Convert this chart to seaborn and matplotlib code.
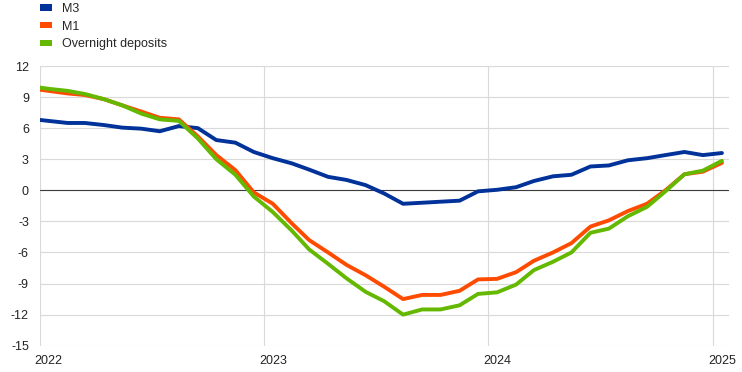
import matplotlib
matplotlib.use("Agg")
import matplotlib.pyplot as plt
import matplotlib.dates as mdates
import seaborn as sns
import pandas as pd
from matplotlib.patches import Patch

# Monthly data (mid-month), Dec 2021 .. Jan 2025
months = pd.date_range("2021-12-01", "2025-01-01", freq="MS") + pd.Timedelta(days=14)

m3 = [6.9,
      6.7, 6.5, 6.5, 6.3, 6.05, 5.95, 5.7, 6.2, 6.0, 4.85, 4.6, 3.7,
      3.1, 2.6, 2.0, 1.3, 1.0, 0.5, -0.3, -1.3, -1.2, -1.1, -1.0, -0.1,
      0.05, 0.3, 0.9, 1.35, 1.5, 2.3, 2.4, 2.9, 3.1, 3.4, 3.7, 3.4,
      3.6]
m1 = [9.85,
      9.6, 9.35, 9.2, 8.8, 8.2, 7.6, 7.0, 6.85, 5.2, 3.4, 1.95, -0.2,
      -1.3, -3.2, -4.8, -6.0, -7.2, -8.2, -9.3, -10.5, -10.1, -10.1, -9.7, -8.6,
      -8.55, -7.9, -6.8, -6.0, -5.1, -3.5, -2.9, -2.0, -1.3, 0.0, 1.55, 1.8,
      2.65]
od = [10.05,
      9.8, 9.6, 9.3, 8.8, 8.2, 7.4, 6.85, 6.7, 5.0, 3.0, 1.5, -0.6,
      -2.1, -3.9, -5.7, -7.1, -8.5, -9.8, -10.7, -12.0, -11.5, -11.5, -11.1, -10.0,
      -9.85, -9.1, -7.7, -6.9, -6.0, -4.1, -3.7, -2.5, -1.6, -0.1, 1.55, 1.9,
      2.85]

series_names = ["M3", "M1", "Overnight deposits"]
colors = ["#003299", "#FF4B00", "#65B800"]
year_labels = ["2022", "2023", "2024", "2025"]
yticks = [-15, -12, -9, -6, -3, 0, 3, 6, 9, 12]

df = pd.concat([
    pd.DataFrame({"date": months, "value": v, "series": n})
    for n, v in zip(series_names, [m3, m1, od])
])

sns.set_theme(style="white")
plt.rcParams["font.family"] = ["Liberation Sans", "DejaVu Sans"]

fig = plt.figure(figsize=(7.42, 3.72), dpi=100)
ax = fig.add_axes([40 / 742, 1 - 345.7 / 372, (729.3 - 40) / 742, (345.7 - 66) / 372])

sns.lineplot(data=df, x="date", y="value", hue="series", hue_order=series_names,
             palette=colors, linewidth=2.8, ax=ax, legend=False, sort=False)

ax.set_ylim(-15, 12)
ax.set_xlim(pd.Timestamp("2022-01-01"), pd.Timestamp("2025-01-27"))
ax.set_yticks(yticks)
ax.set_yticklabels([str(t) for t in yticks])

# gridlines at Jan 1, labels centered mid-January
ax.set_xticks([pd.Timestamp(f"{y}-01-01") for y in year_labels])
ax.set_xticklabels([""] * len(year_labels))
ax.set_xticks([pd.Timestamp(f"{y}-01-15") for y in year_labels], minor=True)
ax.set_xticklabels(year_labels, minor=True)

ax.grid(True, which="major", color="#d9d9d9", linewidth=0.8)
ax.set_axisbelow(True)
ax.axhline(0, color="#3c3c3c", linewidth=0.8, zorder=1.5)
for s in ax.spines.values():
    s.set_visible(False)
ax.tick_params(axis="both", which="both", length=0, labelsize=9, colors="#222222")
ax.tick_params(axis="y", pad=8)
ax.tick_params(axis="x", which="minor", pad=7)
ax.set_xlabel("")
ax.set_ylabel("")

handles = [Patch(facecolor=c, edgecolor="none", label=n) for c, n in zip(colors, series_names)]
fig.legend(handles=handles, loc="upper left", bbox_to_anchor=(40 / 742, 1 - 3 / 372),
           frameon=False, fontsize=9, handlelength=0.95, handleheight=0.4,
           handletextpad=0.8, labelspacing=0.45, borderpad=0.0, borderaxespad=0.0)

fig.savefig("out.png", dpi=100)
